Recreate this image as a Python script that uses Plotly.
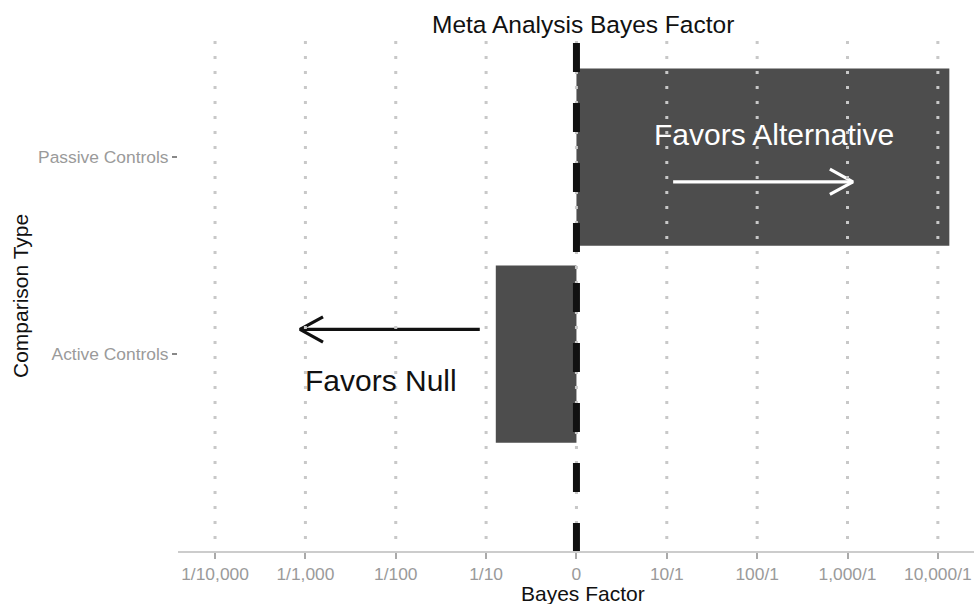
import numpy as np
import plotly.graph_objects as go

# ---- data ----
categories = ["Passive Controls", "Active Controls"]
cat_pos = [1, 0]
bayes_factors = [13400, 0.128]

tick_bf = [1e-4, 1e-3, 1e-2, 1e-1, 1, 10, 100, 1000, 10000]
tick_labels = ["1/10,000", "1/1,000", "1/100", "1/10", "0", "10/1", "100/1", "1,000/1", "10,000/1"]

# annotation arrows (log10 BF start, log10 BF end, y position)
arrow_alt = dict(x0=1.07, x1=3.06, y=0.875, color="#ffffff")
arrow_null = dict(x0=-1.07, x1=-3.06, y=0.125, color="#111111")
text_alt = dict(text="Favors Alternative", x=2.19, y=1.115, color="#ffffff")
text_null = dict(text="Favors Null", x=-2.16, y=-0.135, color="#111111")

FONT = "Liberation Sans, Arial, sans-serif"
BAR_COLOR = "#4d4d4d"
GRID_COLOR = "#c8c8c8"
TICK_COLOR = "#9a9a9a"

x_log = np.log10(bayes_factors)
tick_vals = np.log10(tick_bf)

fig = go.Figure()
fig.add_trace(go.Bar(
    x=x_log, y=cat_pos, orientation="h", width=0.9,
    marker=dict(color=BAR_COLOR, line=dict(width=0)),
    hoverinfo="skip", showlegend=False,
))

# arrows drawn as lines with open chevron heads
head_dx = 0.255  # decades
head_dy = 0.064  # category units
for a in (arrow_alt, arrow_null):
    sgn = 1 if a["x1"] > a["x0"] else -1
    fig.add_trace(go.Scatter(
        x=[a["x0"], a["x1"]], y=[a["y"], a["y"]], mode="lines",
        line=dict(color=a["color"], width=3.2), hoverinfo="skip", showlegend=False,
    ))
    fig.add_trace(go.Scatter(
        x=[a["x1"] - sgn * head_dx, a["x1"], a["x1"] - sgn * head_dx],
        y=[a["y"] + head_dy, a["y"], a["y"] - head_dy], mode="lines",
        line=dict(color=a["color"], width=3.2), hoverinfo="skip", showlegend=False,
    ))

shapes = []
for tv in tick_vals:
    shapes.append(dict(
        type="line", xref="x", yref="paper", x0=tv, x1=tv, y0=1, y1=0,
        line=dict(color=GRID_COLOR, width=3, dash="3px,12px"), layer="above",
    ))
shapes.append(dict(
    type="line", xref="x", yref="paper", x0=0, x1=0, y0=0.996, y1=0,
    line=dict(color="#111111", width=7, dash="29px,31px"), layer="above",
))

annotations = []
for t in (text_alt, text_null):
    annotations.append(dict(
        text=t["text"], x=t["x"], y=t["y"], xref="x", yref="y", showarrow=False,
        font=dict(family=FONT, size=30, color=t["color"]),
        xanchor="center", yanchor="middle",
    ))
annotations.append(dict(
    text="Meta Analysis Bayes Factor", x=0.5088, y=1.0314, xref="paper", yref="paper",
    showarrow=False, font=dict(family=FONT, size=24.5, color="#111111"),
    xanchor="center", yanchor="middle",
))
annotations.append(dict(
    text="Bayes Factor", x=0.5088, y=-0.0843, xref="paper", yref="paper",
    showarrow=False, font=dict(family=FONT, size=21, color="#111111"),
    xanchor="center", yanchor="middle",
))
annotations.append(dict(
    text="Comparison Type", x=-0.1985, y=0.5, xref="paper", yref="paper",
    showarrow=False, font=dict(family=FONT, size=21, color="#111111"),
    xanchor="center", yanchor="middle", textangle=-90,
))

fig.update_layout(
    width=974, height=604,
    margin=dict(l=178, r=0, t=41, b=53),
    paper_bgcolor="white", plot_bgcolor="white",
    font=dict(family=FONT),
    shapes=shapes, annotations=annotations,
    xaxis=dict(
        range=[-4.41, 4.40], tickmode="array", tickvals=tick_vals, ticktext=tick_labels,
        showgrid=False, zeroline=False, showline=True, linecolor="#cccccc", linewidth=2,
        ticks="outside", ticklen=6, tickwidth=2, tickcolor="#aaaaaa",
        tickfont=dict(family=FONT, size=17.4, color=TICK_COLOR),
    ),
    yaxis=dict(
        range=[-1.0, 1.59], tickmode="array", tickvals=cat_pos, ticktext=categories,
        showgrid=False, zeroline=False, showline=False,
        ticks="outside", ticklen=5, tickwidth=2, tickcolor="#888888",
        tickfont=dict(family=FONT, size=17.4, color=TICK_COLOR),
    ),
)

fig.write_html(
    "out.html",
    config={"displayModeBar": False},
    post_script="document.body.style.margin='0';document.body.style.overflow='hidden';",
)
